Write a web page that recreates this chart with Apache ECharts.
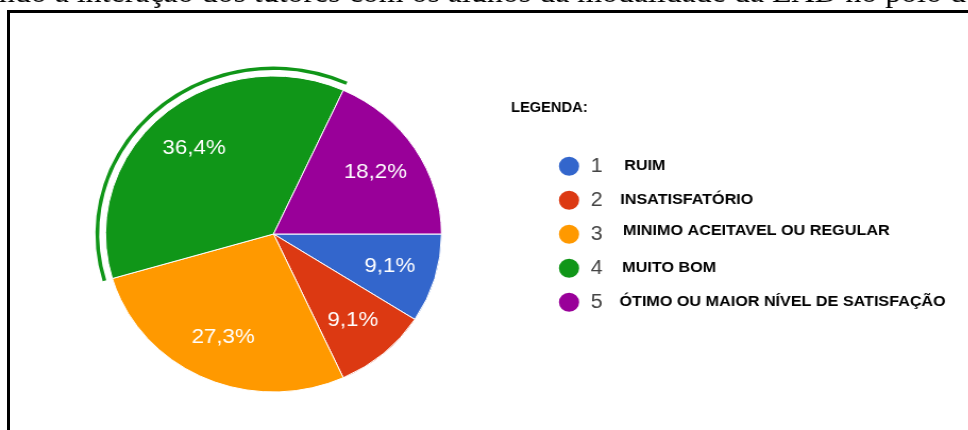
<!DOCTYPE html>
<html><head><meta charset="utf-8">
<script src="https://cdn.jsdelivr.net/npm/echarts@6/dist/echarts.min.js"></script>
<style>
html,body{margin:0;padding:0;background:#fff;overflow:hidden;width:968px;height:430px;}
#frame{position:absolute;left:7px;top:10px;width:1200px;height:800px;border-top:3px solid #000;border-left:3px solid #000;}
#chart{position:absolute;left:0;top:0;width:911px;height:430px;transform:scaleX(1.063);transform-origin:0 0;}
</style></head><body>
<div id="frame"></div>
<div id="chart"></div>
<script>
// ---- data ----
const categories = ['1', '2', '3', '4', '5'];
const descriptions = ['RUIM', 'INSATISFATÓRIO', 'MINIMO ACEITAVEL OU REGULAR', 'MUITO BOM', 'ÓTIMO OU MAIOR NÍVEL DE SATISFAÇÃO'];
const percentValues = [9.1, 9.1, 27.3, 36.4, 18.2];
const highlightedCategory = '4';
const legendTitle = 'LEGENDA:';
const headerText = 'ando a interação dos tutores com os alunos da modalidade da EAD no polo d';

// ---- styles ----
const colors = ['#3366CC', '#DC3912', '#FF9900', '#109618', '#990099'];
const descPadLeft = [4.4, 0.7, 3.2, 2.5, 0];
const descRaised = [false, false, true, false, false];
const CENTER = [257.3, 234];

const pieData = categories.map((c, i) => ({ name: c, value: percentValues[i] }));

const rich = {
  n: { fontSize: 20, color: '#444', fontFamily: 'Liberation Sans', width: 27, padding: [0, 0, 0, 5], lineHeight: 21, verticalAlign: 'middle' }
};
descriptions.forEach((d, i) => {
  rich['d' + i] = descRaised[i]
    ? { fontSize: 15.2, fontWeight: 'bold', color: '#000', fontFamily: 'Liberation Sans', lineHeight: 10, verticalAlign: 'top', padding: [0, 0, 0, descPadLeft[i]] }
    : { fontSize: 15.2, fontWeight: 'bold', color: '#000', fontFamily: 'Liberation Sans', lineHeight: 21, verticalAlign: 'middle', padding: [0, 0, 0, descPadLeft[i]] };
});

const chart = echarts.init(document.getElementById('chart'), null, { renderer: 'canvas' });
chart.setOption({
  animation: false,
  color: colors,
  legend: {
    orient: 'vertical',
    left: 523.8,
    top: 154.7,
    padding: 0,
    itemWidth: 21,
    itemHeight: 21,
    itemGap: 11,
    icon: 'circle',
    selectedMode: false,
    data: categories,
    formatter: name => {
      const i = categories.indexOf(name);
      return '{n|' + name + '}{d' + i + '|' + descriptions[i] + '}';
    },
    textStyle: { rich: rich }
  },
  graphic: [
    { type: 'text', left: 480.7, top: 101, style: { text: legendTitle, font: 'bold 13.8px "Liberation Sans"', fill: '#000' } },
    { type: 'text', x: -14.4, y: -6, style: { text: headerText, font: '30px "Liberation Serif"', fill: '#000', verticalAlign: 'middle' } }
  ],
  series: [
    {
      type: 'pie', center: CENTER, radius: [0, 158], startAngle: 0, clockwise: true,
      silent: true, avoidLabelOverlap: false,
      label: { show: false }, labelLine: { show: false },
      itemStyle: { borderColor: '#fff', borderWidth: 1 },
      emphasis: { disabled: true },
      data: pieData
    },
    {
      type: 'pie', center: CENTER, radius: [164, 167.5], startAngle: 0, clockwise: true,
      silent: true, avoidLabelOverlap: false,
      label: { show: false }, labelLine: { show: false },
      emphasis: { disabled: true },
      data: pieData.map((d, i) => ({ name: d.name, value: d.value, itemStyle: { color: d.name === highlightedCategory ? colors[i] : 'rgba(0,0,0,0)' } }))
    },
    {
      type: 'pie', center: CENTER, radius: [0, 222], startAngle: 0, clockwise: true,
      silent: true, avoidLabelOverlap: false,
      itemStyle: { color: 'rgba(0,0,0,0)' },
      labelLine: { show: false },
      emphasis: { disabled: true },
      label: {
        show: true, position: 'inside', color: '#fff', fontSize: 21, fontFamily: 'Liberation Sans',
        formatter: p => p.value.toFixed(1).replace('.', ',') + '%'
      },
      data: pieData
    }
  ]
});
</script>
</body></html>
